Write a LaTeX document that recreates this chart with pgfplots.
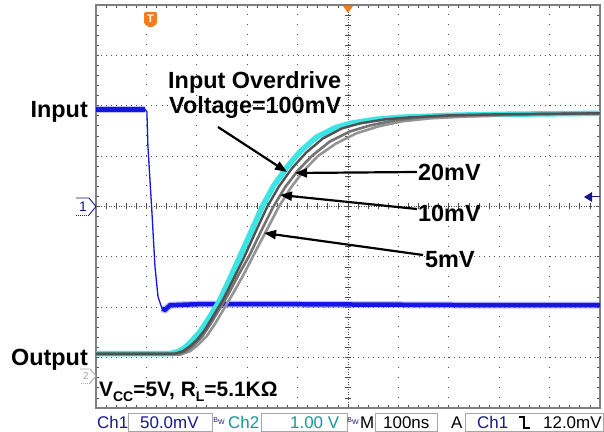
\documentclass[border=0pt]{standalone}
\usepackage{pgfplots}
\pgfplotsset{compat=1.18}
\usepackage{pgfplotstable}
\usepackage{fontspec}
\setmainfont{Liberation Sans}
\usetikzlibrary{arrows.meta}

\definecolor{trblue}{RGB}{22,22,228}
\definecolor{trhalo}{RGB}{120,120,255}
\definecolor{trcyan}{RGB}{60,228,228}
\definecolor{navy}{RGB}{25,25,135}
\definecolor{tealtxt}{RGB}{25,150,150}
\definecolor{scopeorange}{RGB}{240,125,30}

% x = time (ns from left edge, 100 ns/div), y = screen divisions
\pgfplotstableread{
t v
0 5.93
97 5.93
101 5.88
103 5.20
111 3.88
117 2.81
123 2.21
131 1.97
137 1.95
147 2.04
200 2.06
400 2.06
600 2.05
800 2.04
1000 2.04
}\inputtrace

% output, 100 mV overdrive
\pgfplotstableread{
t v
0 1.08
147 1.08
163 1.12
177 1.20
190 1.33
206 1.51
226 1.81
244 2.11
264 2.53
282 2.93
306 3.46
329 3.98
353 4.42
379 4.78
405 5.09
438 5.38
474 5.56
504 5.65
554 5.73
603 5.77
702 5.81
802 5.83
1000 5.85
}\odhundred

% output, 20 mV overdrive
\pgfplotstableread{
t v
0 1.08
157 1.08
173 1.13
187 1.23
200 1.35
216 1.55
234 1.85
252 2.15
272 2.55
292 2.95
315 3.46
339 3.98
363 4.40
389 4.76
417 5.07
450 5.35
488 5.55
524 5.65
573 5.73
623 5.77
702 5.81
802 5.83
1000 5.85
}\odtwenty

% output, 10 mV overdrive
\pgfplotstableread{
t v
0 1.07
163 1.07
179 1.13
194 1.25
210 1.41
226 1.65
244 1.95
262 2.25
282 2.63
304 3.02
327 3.50
351 3.98
375 4.38
401 4.72
429 5.01
464 5.29
504 5.49
544 5.61
593 5.71
643 5.77
722 5.81
841 5.83
1000 5.85
}\odten

% output, 5 mV overdrive
\pgfplotstableread{
t v
0 1.06
167 1.06
187 1.13
202 1.25
220 1.43
236 1.67
254 1.97
274 2.31
294 2.67
315 3.08
339 3.54
363 4.00
387 4.38
413 4.72
440 5.00
476 5.25
516 5.45
560 5.59
607 5.69
663 5.75
742 5.79
861 5.83
1000 5.85
}\odfive

\begin{document}
\begin{tikzpicture}
\path[fill=white, use as bounding box] (0,0) rectangle (604bp,432bp);

% scope graticule
\begin{scope}[x=1bp, y=1bp]
\foreach \i in {1,2,3,4,6,7,8,9}
  \draw[black!70, line width=1bp, dash pattern=on 1bp off 9.08bp] ({96+50.4*\i},24) -- ({96+50.4*\i},427);
\foreach \j in {1,2,3,5,6,7}
  \draw[black!70, line width=1bp, dash pattern=on 1bp off 4.04bp] (96,{24+50.375*\j}) -- (600,{24+50.375*\j});
\draw[black!70, line width=0.9bp, dash pattern=on 1bp off 1.5bp] (348,24) -- (348,427);
\draw[black!70, line width=0.9bp, dash pattern=on 1bp off 1.5bp] (96,225.5) -- (600,225.5);
\foreach \k in {1,...,49} {
  \draw[black!70, line width=0.8bp] ({96+10.08*\k},222.5) -- ++(0,6);
  \draw[black!70, line width=0.8bp] ({96+10.08*\k},24) -- ++(0,3);
  \draw[black!70, line width=0.8bp] ({96+10.08*\k},427) -- ++(0,-3);
}
\foreach \k in {1,...,39} {
  \draw[black!70, line width=0.8bp] (345,{24+10.075*\k}) -- ++(6,0);
  \draw[black!70, line width=0.8bp] (96,{24+10.075*\k}) -- ++(3,0);
  \draw[black!70, line width=0.8bp] (600,{24+10.075*\k}) -- ++(-3,0);
}
\draw[black!50, line width=2bp] (96,24) rectangle (600,427);
\end{scope}

\begin{axis}[
  at={(96bp,24bp)}, anchor=south west,
  scale only axis, width=504bp, height=403bp,
  xmin=0, xmax=1000, ymin=0, ymax=8,
  hide axis,
]
% input (Ch1)
\addplot[trhalo, line width=7bp, opacity=0.45, restrict x to domain=0:99] table[x=t, y=v] {\inputtrace};
\addplot[trhalo, line width=7bp, opacity=0.45, restrict x to domain=130:1000] table[x=t, y=v] {\inputtrace};
\addplot[trblue, line width=1.3bp] table[x=t, y=v] {\inputtrace};
\addplot[trblue, line width=4.5bp, restrict x to domain=0:99] table[x=t, y=v] {\inputtrace};
\addplot[trblue, line width=4.5bp, restrict x to domain=130:1000] table[x=t, y=v] {\inputtrace};
% outputs (Ch2)
\addplot[trcyan, line width=5.5bp] table[x=t, y=v] {\odhundred};
\addplot[black!42, line width=2.6bp] table[x=t, y=v] {\odfive};
\addplot[black!55, line width=2.6bp] table[x=t, y=v] {\odten};
\addplot[black!68, line width=2.4bp] table[x=t, y=v] {\odtwenty};
\end{axis}

\begin{scope}[x=1bp, y=1bp, every node/.style={inner sep=0pt}]
% labels
\tikzset{big/.style={font=\fontsize{23.5}{28}\selectfont\bfseries}}
\node[big, anchor=base west] at (168,344) {Input Overdrive};
\node[big, anchor=base west] at (169,319) {Voltage=100mV};
\node[big, anchor=base west] at (418,252) {20mV};
\node[big, anchor=base west] at (418,211) {10mV};
\node[big, anchor=base west] at (425,165) {5mV};
\node[big, anchor=base east] at (88,315) {Input};
\node[big, anchor=base east] at (88,67) {Output};
\node[anchor=base west, font=\fontsize{21}{25}\selectfont\bfseries] at (99,36)
  {V\raisebox{-5bp}{\fontsize{14}{14}\selectfont CC}=5V, R\raisebox{-5bp}{\fontsize{14}{14}\selectfont L}=5.1KΩ};

% arrows
\tikzset{arr/.style={line width=2.2bp, -{Triangle[length=12bp, width=9bp]}}}
\draw[arr] (218,305) -- (287,260);
\draw[arr] (417,260) -- (295,259);
\draw[arr] (417,223) -- (280,237);
\draw[arr] (423,177) -- (264,199);

% scope markers
\draw[navy, line width=0.9bp] (76,234) -- (89,234) -- (96,225.5) -- (89,217);
\draw[navy, line width=0.9bp, dash pattern=on 1bp off 1bp] (89,217) -- (76,217);
\node[navy, font=\fontsize{14}{14}\selectfont] at (83,225.5) {1};
\draw[black!35, line width=0.9bp] (80,63) -- (90,63) -- (96,56) -- (90,49);
\draw[black!35, line width=0.9bp, dash pattern=on 1bp off 1bp] (90,49) -- (80,49);
\node[black!35, font=\fontsize{10}{10}\selectfont] at (86,56) {2};
\fill[navy] (584,235) -- (592,240) -- (592,230) -- cycle;
\draw[navy, line width=1bp] (592,235) -- (600,235);
\fill[scopeorange] (343,426) -- (353,426) -- (348,419) -- cycle;
\fill[scopeorange, rounded corners=1.5bp] (144,420) -- (157,420) -- (157,408) -- (150.5,404) -- (144,408) -- cycle;
\node[white, font=\fontsize{11}{11}\selectfont\bfseries] at (150.5,413) {T};

% status bar
\tikzset{st/.style={anchor=base west, font=\fontsize{17}{19}\selectfont}}
\draw[black!35, line width=0.8bp] (128,0.5) rectangle (212,19);
\draw[black!35, line width=0.8bp] (261,0.5) rectangle (347,19);
\draw[black!35, line width=0.8bp] (375,0.5) rectangle (437,19);
\draw[black!35, line width=0.8bp] (465,0.5) rectangle (603.5,19);
\node[st, navy] at (97,4) {Ch1};
\node[st, navy] at (140,4) {50.0mV};
\node[navy, font=\fontsize{7}{7}\selectfont] at (219,11) {B\raisebox{-2.5bp}{W}};
\node[st, tealtxt] at (228,4) {Ch2};
\node[st, tealtxt] at (290,4) {1.00 V};
\node[navy, font=\fontsize{7}{7}\selectfont] at (353,11) {B\raisebox{-2.5bp}{W}};
\node[st] at (360,4) {M};
\node[st] at (383,4) {100ns};
\node[st] at (451,4) {A};
\node[st, navy] at (477,4) {Ch1};
\draw[line width=1.2bp] (519,15) -- (524,15) -- (524,4) -- (530,4);
\node[st] at (543,4) {12.0mV};
\end{scope}
\end{tikzpicture}
\end{document}
